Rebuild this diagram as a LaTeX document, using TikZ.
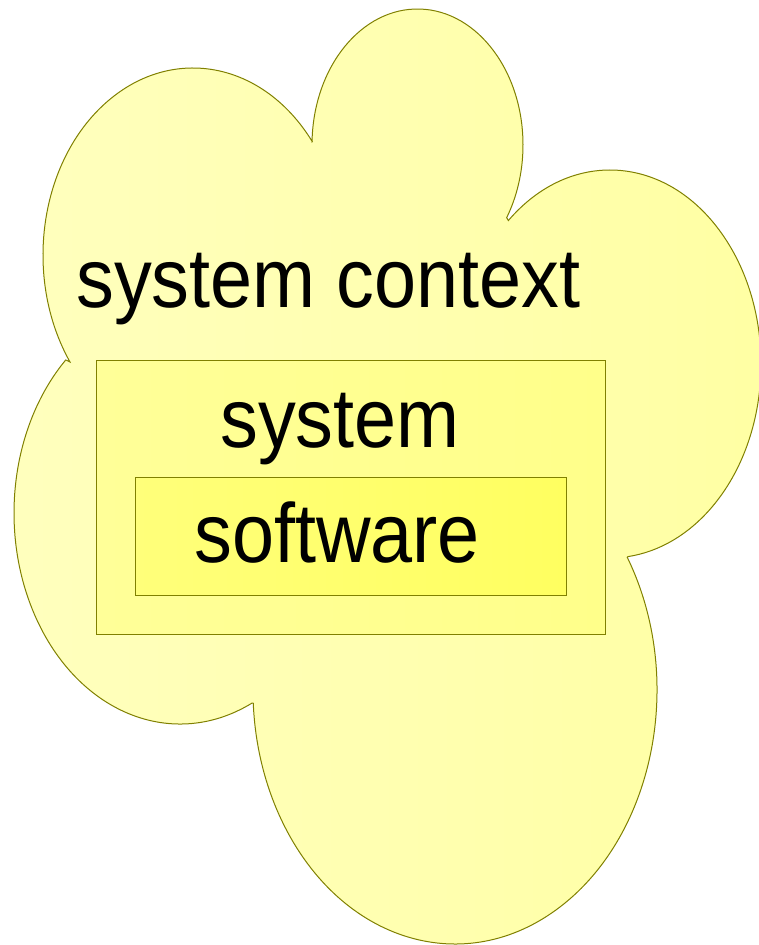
\documentclass[tikz,border=0pt]{standalone}
\usepackage{fontspec}
\newfontfamily\cloudfont[FakeStretch=0.90]{Liberation Sans}
\usetikzlibrary{positioning}
\definecolor{cloudline}{HTML}{808000}
\definecolor{cloudlight}{HTML}{FFFFBE}
\definecolor{cloudfill}{HTML}{FFFFA3}
\definecolor{syslight}{HTML}{FFFF98}
\definecolor{sysfill}{HTML}{FFFF8A}
\definecolor{swlight}{HTML}{FFFF7A}
\definecolor{swfill}{HTML}{FFFF60}

\begin{document}
\begin{tikzpicture}[x=1pt,y=1pt,
                    cloud/.style={draw=cloudline,line width=1pt,left color=cloudlight,right color=cloudfill},
                    box/.style={draw=cloudline,line width=1pt,inner sep=0pt},
                    main text/.style={font=\cloudfont\fontsize{84}{84}\selectfont,inner sep=0pt,anchor=base west}]

        \useasboundingbox (0,0) rectangle (759,945);

        % Define lobe centres
        \coordinate (tllobe) at (193,690);
        \coordinate (toplobe) at (417.5,800);
        \coordinate (rlobe) at (610,581);
        \coordinate (blobe) at (455,255);
        \coordinate (bllobe) at (180,432);

        % Draw cloud
        \draw[cloud] ([shift={(214.9:150 and 187)}]tllobe)
            arc[start angle=214.9,end angle=37.3,x radius=150,y radius=187]
            -- ([shift={(178.7:105.5 and 136)}]toplobe)
            arc[start angle=178.7,end angle=-32.3,x radius=105.5,y radius=136]
            -- ([shift={(132.3:151 and 194)}]rlobe)
            arc[start angle=132.3,end angle=-83.2,x radius=151,y radius=194]
            -- ([shift={(31.5:202 and 254)}]blobe)
            arc[start angle=31.5,end angle=-177,x radius=202,y radius=254]
            -- ([shift={(-64.3:166 and 211)}]bllobe)
            arc[start angle=-64.3,end angle=-226.5,x radius=166,y radius=211]
            -- cycle;

        % Define boxes
        \node[box,minimum width=509pt,minimum height=274pt,left color=syslight,right color=sysfill] (system) at (350.5,447) {};
        \node[box,minimum width=431pt,minimum height=118pt,left color=swlight,right color=swfill] (software) at (350.5,408) {};

        % Labels
        \node[main text] (ctxtext) at (76,637) {system context};
        \node[main text] (systext) at (220,497) {system};
        \node[main text] (swtext) at (194,382) {software};

\end{tikzpicture}
\end{document}
